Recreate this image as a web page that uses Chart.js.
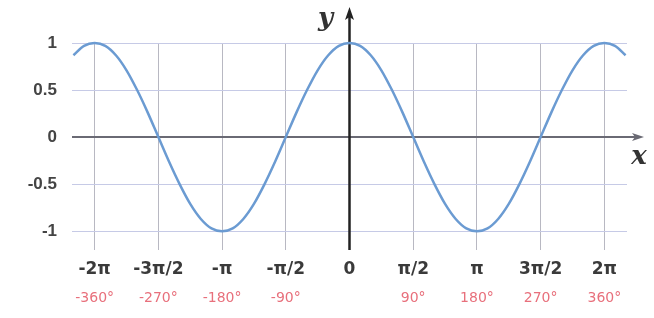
<!DOCTYPE html>
<html>
<head>
<meta charset="utf-8">
<script src="https://cdn.jsdelivr.net/npm/chart.js@4"></script>
<style>
  html, body { margin: 0; padding: 0; background: #fff; }
  #wrap { width: 654px; height: 318px; position: relative; }
</style>
</head>
<body>
<div id="wrap"><canvas id="cosChart"></canvas></div>
<script>
// angles in degrees and cos values
const angles = [-390, -375, -360, -345, -330, -315, -300, -285, -270, -255, -240, -225, -210, -195,
  -180, -165, -150, -135, -120, -105, -90, -75, -60, -45, -30, -15,
  0, 15, 30, 45, 60, 75, 90, 105, 120, 135, 150, 165, 180, 195, 210, 225, 240, 255,
  270, 285, 300, 315, 330, 345, 360, 375, 390];
const yValues = [0.87, 0.97, 1, 0.97, 0.87, 0.71, 0.5, 0.26, 0, -0.26, -0.5, -0.71, -0.87, -0.97,
  -1, -0.97, -0.87, -0.71, -0.5, -0.26, 0, 0.26, 0.5, 0.71, 0.87, 0.97,
  1, 0.97, 0.87, 0.71, 0.5, 0.26, 0, -0.26, -0.5, -0.71, -0.87, -0.97, -1, -0.97, -0.87, -0.71, -0.5, -0.26,
  0, 0.26, 0.5, 0.71, 0.87, 0.97, 1, 0.97, 0.87];

// tick labels
const xTickValues = [-360, -270, -180, -90, 0, 90, 180, 270, 360];
const piLabels = ['-2π', '-3π/2', '-π', '-π/2', '0', 'π/2', 'π', '3π/2', '2π'];
const degLabels = ['-360°', '-270°', '-180°', '-90°', '', '90°', '180°', '270°', '360°'];
const yTickValues = [-1, -0.5, 0, 0.5, 1];
const yLabels = ['-1', '-0.5', '0', '0.5', '1'];

const points = angles.map((a, i) => ({ x: a, y: yValues[i] }));

// axes with arrows + x / y letters
const axisArrows = {
  id: 'axisArrows',
  beforeDatasetsDraw(chart) {
    const ctx = chart.ctx;
    const xs = chart.scales.x, ys = chart.scales.y;
    const area = chart.chartArea;
    const x0 = xs.getPixelForValue(0);
    const y0 = ys.getPixelForValue(0);
    ctx.save();
    // x axis
    ctx.strokeStyle = '#6a6a74';
    ctx.fillStyle = '#6a6a74';
    ctx.lineWidth = 2;
    ctx.beginPath();
    ctx.moveTo(area.left, y0);
    ctx.lineTo(area.right + 10, y0);
    ctx.stroke();
    ctx.beginPath();
    ctx.moveTo(area.right + 17, y0);
    ctx.lineTo(area.right + 5, y0 - 4);
    ctx.lineTo(area.right + 8, y0);
    ctx.lineTo(area.right + 5, y0 + 4);
    ctx.closePath();
    ctx.fill();
    // y axis
    ctx.strokeStyle = '#222';
    ctx.fillStyle = '#222';
    ctx.lineWidth = 2.5;
    ctx.beginPath();
    ctx.moveTo(x0, area.bottom);
    ctx.lineTo(x0, 16);
    ctx.stroke();
    ctx.beginPath();
    ctx.moveTo(x0, 7);
    ctx.lineTo(x0 - 4.5, 20);
    ctx.lineTo(x0, 17);
    ctx.lineTo(x0 + 4.5, 20);
    ctx.closePath();
    ctx.fill();
    // letters
    ctx.fillStyle = '#333';
    ctx.font = 'italic bold 26px "DejaVu Serif", serif';
    ctx.textAlign = 'center';
    ctx.textBaseline = 'middle';
    ctx.fillText('y', x0 - 24, 19);
    ctx.fillText('x', area.right + 12, y0 + 20);
    ctx.restore();
  }
};

new Chart(document.getElementById('cosChart'), {
  type: 'line',
  data: {
    datasets: [{
      data: points,
      borderColor: '#6b9bd2',
      borderWidth: 2.5,
      pointRadius: 0,
      cubicInterpolationMode: 'monotone',
      fill: false,
      clip: false
    }]
  },
  options: {
    responsive: true,
    maintainAspectRatio: false,
    animation: false,
    layout: { padding: { top: 43, right: 27, left: 0, bottom: 0 } },
    plugins: {
      legend: { display: false },
      tooltip: { enabled: false }
    },
    scales: {
      x: {
        type: 'linear',
        position: 'bottom',
        weight: 0,
        min: -392,
        max: 392,
        afterBuildTicks: (scale) => { scale.ticks = xTickValues.map(v => ({ value: v })); },
        afterFit: (scale) => { scale.height = 34; },
        border: { display: false },
        grid: {
          drawTicks: false,
          lineWidth: 1,
          color: (c) => (c.tick && c.tick.value === 0) ? 'rgba(0,0,0,0)' : '#b8b8c2'
        },
        ticks: {
          padding: 9,
          maxRotation: 0,
          autoSkip: false,
          color: '#3a3a3a',
          font: { family: '"DejaVu Sans", sans-serif', size: 17, weight: 'bold' },
          callback: (v, i) => piLabels[i]
        }
      },
      x2: {
        type: 'linear',
        position: 'bottom',
        weight: 1,
        min: -392,
        max: 392,
        afterBuildTicks: (scale) => { scale.ticks = xTickValues.map(v => ({ value: v })); },
        afterFit: (scale) => { scale.height = 34; },
        border: { display: false },
        grid: { display: false, drawTicks: false },
        ticks: {
          padding: 6,
          maxRotation: 0,
          autoSkip: false,
          color: '#e8707c',
          font: { family: '"DejaVu Sans", sans-serif', size: 14 },
          callback: (v, i) => degLabels[i]
        }
      },
      y: {
        min: -1.2,
        max: 1,
        afterBuildTicks: (scale) => { scale.ticks = yTickValues.map(v => ({ value: v })); },
        afterFit: (scale) => { scale.width = 72; },
        border: { display: false },
        grid: {
          drawTicks: false,
          lineWidth: 1,
          color: (c) => (c.tick && c.tick.value === 0) ? 'rgba(0,0,0,0)' : '#c6cae6'
        },
        ticks: {
          padding: 15,
          color: '#444',
          font: { family: '"Liberation Sans", Arial, sans-serif', size: 17, weight: 'bold' },
          callback: (v, i) => yLabels[i]
        }
      }
    }
  },
  plugins: [axisArrows]
});
</script>
</body>
</html>
